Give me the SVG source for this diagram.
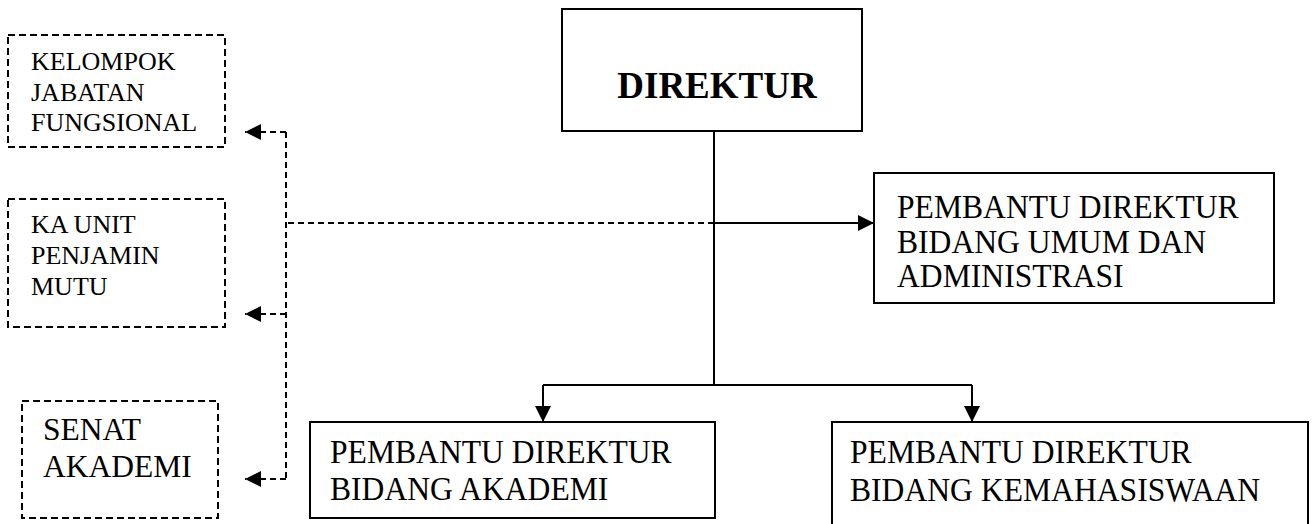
<svg xmlns="http://www.w3.org/2000/svg" width="1312" height="524" viewBox="0 0 1312 524">
<style>
.box{fill:#fff;stroke:#000;stroke-width:2}
.dbox{fill:#fff;stroke:#000;stroke-width:2;stroke-dasharray:7 4}
.t{font-family:"Liberation Serif","Times New Roman",serif;fill:#000}
.s{font-size:26px}
.m{font-size:34px}
.n{font-size:31.5px}
.b{font-size:37px;font-weight:bold}
.ln{fill:none;stroke:#000;stroke-width:2}
.dl{fill:none;stroke:#000;stroke-width:2;stroke-dasharray:6 4}
</style>
<defs>
<marker id="ah" viewBox="0 0 16 16" refX="16" refY="8" markerWidth="16" markerHeight="16" markerUnits="userSpaceOnUse" orient="auto">
<path d="M0,0 L16,8 L0,16 Z" fill="#000"/>
</marker>
</defs>
<g id="connectors">
<line class="ln" x1="714" y1="131" x2="714" y2="385"/>
<path class="ln" d="M543,385 H972"/>
<path class="ln" d="M543,385 V422" marker-end="url(#ah)"/>
<path class="ln" d="M972,385 V422" marker-end="url(#ah)"/>
<path class="ln" d="M714,223 H874" marker-end="url(#ah)"/>
<path class="dl" d="M714,223 H286"/>
<path class="dl" d="M286,132 V479"/>
<path class="dl" d="M286,132 H245" marker-end="url(#ah)"/>
<path class="dl" d="M286,314 H245" marker-end="url(#ah)"/>
<path class="dl" d="M286,479 H245" marker-end="url(#ah)"/>
</g>
<g id="direktur">
<rect class="box" x="562" y="9" width="300" height="122"/>
<text class="t b" x="717" y="98" text-anchor="middle">DIREKTUR</text>
</g>
<g id="pd-umum">
<rect class="box" x="874" y="173" width="400" height="130"/>
<g transform="translate(897,0) scale(0.93,1)">
<text class="t m" x="0" y="218">PEMBANTU DIREKTUR</text>
<text class="t m" x="0" y="253">BIDANG UMUM DAN</text>
<text class="t m" x="0" y="287">ADMINISTRASI</text>
</g>
</g>
<g id="pd-akademi">
<rect class="box" x="310" y="422" width="405" height="96"/>
<g transform="translate(330,0) scale(0.93,1)">
<text class="t m" x="0" y="463">PEMBANTU DIREKTUR</text>
<text class="t m" x="0" y="500">BIDANG AKADEMI</text>
</g>
</g>
<g id="pd-kemahasiswaan">
<rect class="box" x="832" y="422" width="476" height="110"/>
<g transform="translate(850,0) scale(0.93,1)">
<text class="t m" x="0" y="463">PEMBANTU DIREKTUR</text>
<text class="t m" x="0" y="501">BIDANG KEMAHASISWAAN</text>
</g>
</g>
<g id="kelompok">
<rect class="dbox" x="8" y="35" width="217" height="112"/>
<text class="t s" x="31" y="70">KELOMPOK</text>
<text class="t s" x="31" y="101">JABATAN</text>
<text class="t s" x="31" y="131">FUNGSIONAL</text>
</g>
<g id="ka-unit">
<rect class="dbox" x="8" y="199" width="217" height="128"/>
<text class="t s" x="31" y="233">KA UNIT</text>
<text class="t s" x="31" y="264">PENJAMIN</text>
<text class="t s" x="31" y="295">MUTU</text>
</g>
<g id="senat">
<rect class="dbox" x="22" y="401" width="196" height="117"/>
<text class="t n" x="43" y="440">SENAT</text>
<text class="t n" x="43" y="477">AKADEMI</text>
</g>
</svg>
